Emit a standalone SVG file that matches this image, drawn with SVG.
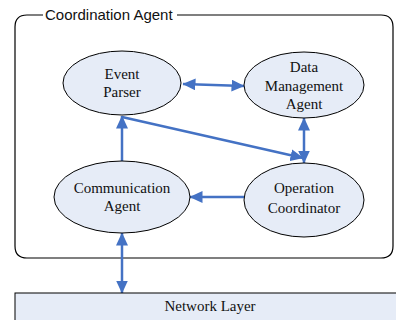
<svg xmlns="http://www.w3.org/2000/svg" width="396" height="320" viewBox="0 0 396 320">
<style>
.node{fill:#e6ecf7;stroke:#000;stroke-width:1}
.lbl{font-size:15px;fill:#111;text-anchor:middle}
.conn{stroke:#4472c4;stroke-width:2.5;fill:none}
</style>
<defs>
<marker id="ah" markerWidth="13" markerHeight="12" refX="12.5" refY="6" orient="auto-start-reverse" markerUnits="userSpaceOnUse"><path d="M0,0 L13,6 L0,12 Z" fill="#4472c4"/></marker>
</defs>
<rect width="396" height="320" fill="#fff"/>
<g id="container">
<path d="M43,15 L27,15 Q15,15 15,27 L15,246 Q15,258 27,258 L381,258 Q393,258 393,246 L393,27 Q393,15 381,15 L177,15" fill="none" stroke="#000" stroke-width="1.2"/>
<text x="45" y="20" font-family="Liberation Sans, Arial, sans-serif" font-size="15" fill="#111">Coordination Agent</text>
</g>
<g id="connectors">
<line class="conn" x1="183" y1="84" x2="244" y2="86" marker-start="url(#ah)" marker-end="url(#ah)"/>
<line class="conn" x1="122" y1="117" x2="303" y2="158" marker-end="url(#ah)"/>
<line class="conn" x1="122" y1="161" x2="122" y2="116" marker-end="url(#ah)"/>
<line class="conn" x1="304" y1="118" x2="304" y2="163" marker-start="url(#ah)" marker-end="url(#ah)"/>
<line class="conn" x1="244" y1="197" x2="190" y2="197" marker-end="url(#ah)"/>
<line class="conn" x1="122" y1="233" x2="122" y2="293" marker-start="url(#ah)" marker-end="url(#ah)"/>
</g>
<g font-family="Liberation Serif, Times New Roman, serif">
<g id="event-parser">
<ellipse class="node" cx="122" cy="83" rx="59" ry="32"/>
<text class="lbl" x="122" y="79">Event</text>
<text class="lbl" x="122" y="97">Parser</text>
</g>
<g id="data-management-agent">
<ellipse class="node" cx="304" cy="85" rx="60" ry="33"/>
<text class="lbl" x="304" y="72">Data</text>
<text class="lbl" x="304" y="91">Management</text>
<text class="lbl" x="304" y="109">Agent</text>
</g>
<g id="communication-agent">
<ellipse class="node" cx="122" cy="197" rx="68" ry="36"/>
<text class="lbl" x="122" y="193">Communication</text>
<text class="lbl" x="122" y="211">Agent</text>
</g>
<g id="operation-coordinator">
<ellipse class="node" cx="304" cy="200" rx="60" ry="37"/>
<text class="lbl" x="304" y="193">Operation</text>
<text class="lbl" x="304" y="213">Coordinator</text>
</g>
<g id="network-layer">
<rect x="15" y="293" width="390" height="40" fill="#e6ecf7" stroke="#000" stroke-width="1"/>
<text class="lbl" x="210" y="311">Network Layer</text>
</g>
</g>
</svg>
